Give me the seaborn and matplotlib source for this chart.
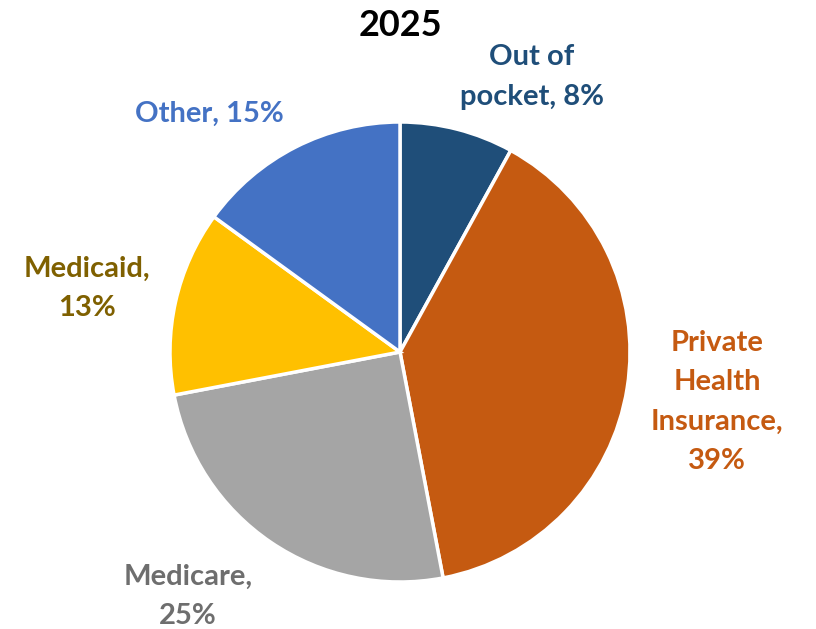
import numpy as np
import seaborn as sns
import matplotlib.pyplot as plt

categories = ["Out of\npocket", "Private\nHealth\nInsurance", "Medicare", "Medicaid", "Other"]
shares = [8, 39, 25, 13, 15]
wedge_colors = ["#1F4E79", "#C55A11", "#A5A5A5", "#FFC000", "#4472C4"]
label_colors = ["#1F4E79", "#C55A11", "#6E6E6E", "#7F6000", "#4472C4"]
title = "2025"

sns.set_theme(style="white")
plt.rcParams["font.family"] = ["Lato", "DejaVu Sans"]

W, H = 816, 629
cx, cy, r = 400, 352, 230  # pie centre / radius in pixels

fig = plt.figure(figsize=(W / 100, H / 100), dpi=100)
ax = fig.add_axes([0, 0, 1, 1])

ax.pie(shares, colors=wedge_colors, startangle=90, counterclock=False,
       radius=1, wedgeprops=dict(edgecolor="white", linewidth=2.5))
ax.set_aspect("auto")
ax.set_xlim(-cx / r, (W - cx) / r)
ax.set_ylim(-(H - cy) / r, cy / r)
ax.axis("off")

# label centres in pixels
label_px = [(532, 77), (717, 402), (188, 596), (87, 288), (209, 114)]
for cat, val, col, (px, py) in zip(categories, shares, label_colors, label_px):
    if cat in ("Other", "Out of\npocket"):
        txt = f"{cat}, {val}%"
    else:
        txt = f"{cat},\n{val}%"
    ax.text((px - cx) / r, (cy - py) / r, txt, ha="center", va="center",
            color=col, fontsize=21, fontweight="bold", linespacing=1.62)

ax.text(0, (cy - 25) / r, title, ha="center", va="center",
        fontsize=26, fontweight="bold", color="black")

plt.savefig("out.png", dpi=100)
plt.close()
